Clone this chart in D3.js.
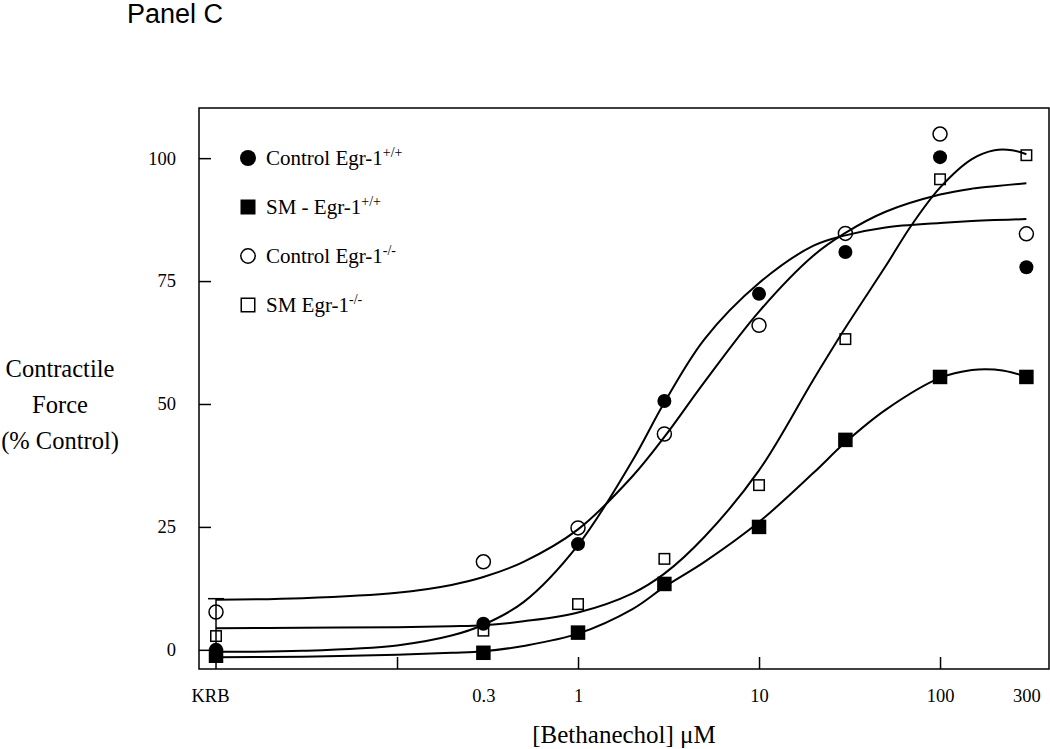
<!DOCTYPE html>
<html>
<head>
<meta charset="utf-8">
<script src="https://cdn.jsdelivr.net/npm/d3@7/dist/d3.min.js"></script>
<style>
  html, body { margin: 0; padding: 0; background: #fff; }
  svg { display: block; }
</style>
</head>
<body>
<svg id="chart" width="1050" height="749"></svg>
<script>
// ---------- DATA ----------
const doseLabels = ["KRB", "0.3", "1", "3", "10", "30", "100", "300"];
const doses = [0.01, 0.3, 1, 3, 10, 30, 100, 300];

const controlWT = [0, 5.3, 21.5, 50.6, 72.4, 80.9, 100.2, 77.8];   // filled circles
const smWT      = [-1.2, -0.6, 3.5, 13.4, 25.0, 42.7, 55.5, 55.5]; // filled squares
const controlKO = [7.7, 17.9, 24.8, 43.9, 66.0, 84.7, 104.9, 84.6]; // open circles
const smKO      = [2.8, 3.9, 9.3, 18.5, 33.5, 63.2, 95.7, 100.6];   // open squares

// fitted curves, values
const fitDosesA = [0.01, 0.03, 0.1, 0.2, 0.3, 0.5, 1, 2, 3, 5, 10, 20, 30, 50, 100, 150, 200, 300];
const fitControlWT = [-0.4, -0.2, 0.9, 2.9, 5.1, 9.7, 21.3, 38.5, 50.3, 63.2, 74.6, 82.2, 84.3, 85.9, 86.8, 87.2, 87.4, 87.6];
const fitControlKO = [10.2, 10.5, 11.6, 13.2, 14.8, 17.9, 24.5, 35.3, 43.3, 54.5, 68.8, 80.2, 84.8, 89.1, 92.6, 93.8, 94.3, 94.9];
const fitDosesB = [0.01, 0.03, 0.1, 0.2, 0.3, 0.5, 1, 2, 3, 5, 10, 20, 30, 50, 70, 100, 150, 200, 250, 300];
const fitSmKO  = [4.4, 4.5, 4.6, 4.8, 5.0, 5.8, 7.6, 11.5, 15.5, 23.0, 36.5, 55.0, 65.5, 78.0, 86.5, 94.0, 99.8, 101.6, 101.6, 100.8];
const fitDosesC = [0.01, 0.03, 0.1, 0.2, 0.3, 0.5, 1, 2, 3, 5, 10, 20, 30, 50, 100, 150, 200, 250, 300];
const fitSmWT  = [-1.5, -1.4, -1.0, -0.6, -0.3, 0.8, 3.3, 8.3, 12.8, 17.9, 26.0, 36.0, 42.2, 48.8, 55.3, 56.9, 57.0, 56.4, 55.5];

const errorBarTop = 10.4;   // KRB error bar top (% control)

const yTicks = [0, 25, 50, 75, 100];
const xTickMarks = [0.1, 1, 10, 100];
const xTickLabelValues = [0.01, 0.3, 1, 10, 100, 300];
const xTickLabelText = ["KRB", "0.3", "1", "10", "100", "300"];

const legendItems = [
  { name: "Control Egr-1", sup: "+/+", sym: "filledCircle" },
  { name: "SM - Egr-1", sup: "+/+", sym: "filledSquare" },
  { name: "Control Egr-1", sup: "-/-", sym: "openCircle" },
  { name: "SM Egr-1", sup: "-/-", sym: "openSquare" }
];

// ---------- LAYOUT ----------
const L = 199, R = 1049, T = 108, B = 669;
const serif = "'Liberation Serif', 'Times New Roman', serif";

const svg = d3.select("#chart");

const x = d3.scaleLog().domain([Math.pow(10, -2.094), Math.pow(10, 2.602)]).range([L, R]);
const y = d3.scaleLinear().domain([-3.9, 110.2]).range([B, T]);

// title
svg.append("text").attr("x", 127).attr("y", 23)
  .attr("font-family", "'Liberation Sans', Arial, sans-serif")
  .attr("font-size", 27).text("Panel C");

// frame
svg.append("rect").attr("x", L).attr("y", T).attr("width", R - L).attr("height", B - T)
  .attr("fill", "none").attr("stroke", "#000").attr("stroke-width", 1.5);

// x ticks (inside)
const xAxisTicks = svg.append("g").attr("transform", `translate(0,${B})`)
  .call(d3.axisBottom(x).tickValues(xTickMarks).tickSize(-12).tickFormat(""));
xAxisTicks.select(".domain").remove();
xAxisTicks.selectAll("line").attr("stroke", "#000").attr("stroke-width", 1.5);

const xAxisLabels = svg.append("g").attr("transform", `translate(0,${B})`)
  .call(d3.axisBottom(x).tickValues(xTickLabelValues).tickSize(0).tickPadding(20)
    .tickFormat((d, i) => xTickLabelText[i]));
xAxisLabels.select(".domain").remove();
xAxisLabels.selectAll("text").attr("font-family", serif).attr("font-size", 18.5).attr("fill", "#000")
  .attr("dx", (d, i) => i === 0 ? -6 : 0);

// y ticks
const yAxisTicks = svg.append("g").attr("transform", `translate(${L},0)`)
  .call(d3.axisLeft(y).tickValues(yTicks).tickSize(-12).tickFormat(""));
yAxisTicks.select(".domain").remove();
yAxisTicks.selectAll("line").attr("stroke", "#000").attr("stroke-width", 1.5);

const yAxisLabels = svg.append("g").attr("transform", `translate(${L},0)`)
  .call(d3.axisLeft(y).tickValues(yTicks).tickSize(0).tickPadding(23));
yAxisLabels.select(".domain").remove();
yAxisLabels.selectAll("text").attr("font-family", serif).attr("font-size", 18.5).attr("fill", "#000");

// axis titles
const yl = svg.append("text").attr("font-family", serif).attr("font-size", 24.5)
  .attr("text-anchor", "middle");
["Contractile", "Force", "(% Control)"].forEach((s, i) => {
  yl.append("tspan").attr("x", 60).attr("y", 377 + i * 36).text(s);
});
svg.append("text").attr("x", 624).attr("y", 743).attr("text-anchor", "middle")
  .attr("font-family", serif).attr("font-size", 25).text("[Bethanechol] \u03BCM");

// KRB error bar
svg.append("line").attr("x1", x(0.01)).attr("x2", x(0.01)).attr("y1", y(errorBarTop)).attr("y2", B)
  .attr("stroke", "#000").attr("stroke-width", 1.5);
svg.append("line").attr("x1", x(0.01) - 8).attr("x2", x(0.01) + 8)
  .attr("y1", y(errorBarTop)).attr("y2", y(errorBarTop))
  .attr("stroke", "#000").attr("stroke-width", 1.5);

// curves
const line = d3.line().x(d => x(d[0])).y(d => y(d[1])).curve(d3.curveCatmullRom.alpha(0.5));
const curves = [
  d3.zip(fitDosesA, fitControlWT),
  d3.zip(fitDosesA, fitControlKO),
  d3.zip(fitDosesB, fitSmKO),
  d3.zip(fitDosesC, fitSmWT)
];
svg.append("g").selectAll("path").data(curves).join("path")
  .attr("d", line).attr("fill", "none").attr("stroke", "#000").attr("stroke-width", 2);

// markers
function drawSym(g, sym, cx, cy, big) {
  if (sym === "filledCircle") {
    g.append("circle").attr("cx", cx).attr("cy", cy).attr("r", big ? 8 : 7).attr("fill", "#000");
  } else if (sym === "openCircle") {
    g.append("circle").attr("cx", cx).attr("cy", cy).attr("r", big ? 7.2 : 7)
      .attr("fill", "none").attr("stroke", "#000").attr("stroke-width", 1.5);
  } else if (sym === "filledSquare") {
    const s = big ? 15 : 14.5;
    g.append("rect").attr("x", cx - s / 2).attr("y", cy - s / 2).attr("width", s).attr("height", s).attr("fill", "#000");
  } else {
    const s = big ? 13.5 : 10.5;
    g.append("rect").attr("x", cx - s / 2).attr("y", cy - s / 2).attr("width", s).attr("height", s)
      .attr("fill", "none").attr("stroke", "#000").attr("stroke-width", 1.5);
  }
}

const mg = svg.append("g");
const seriesList = [
  { vals: smKO, sym: "openSquare" },
  { vals: controlKO, sym: "openCircle" },
  { vals: smWT, sym: "filledSquare" },
  { vals: controlWT, sym: "filledCircle" }
];
seriesList.forEach(s => {
  s.vals.forEach((v, i) => drawSym(mg, s.sym, x(doses[i]), y(v), false));
});

// legend
const lg = svg.append("g");
legendItems.forEach((d, i) => {
  const cy = 158 + i * 49;
  drawSym(lg, d.sym, 248, cy, true);
  const t = lg.append("text").attr("x", 266).attr("y", cy + 7)
    .attr("font-family", serif).attr("font-size", 21);
  t.append("tspan").text(d.name);
  t.append("tspan").attr("dy", -8).attr("font-size", 14).text(d.sup);
});
</script>
</body>
</html>
